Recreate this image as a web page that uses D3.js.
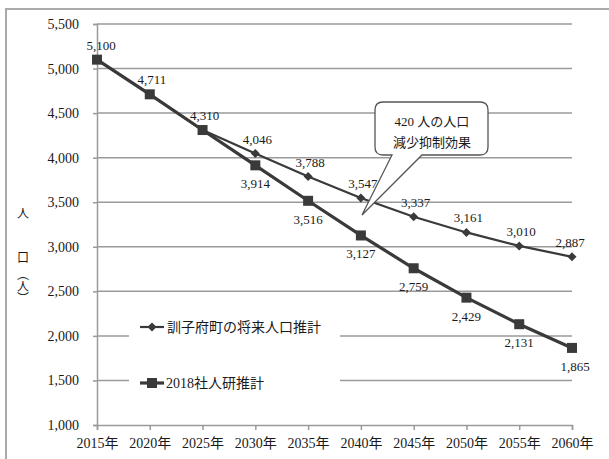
<!DOCTYPE html>
<html><head><meta charset="utf-8">
<script src="https://cdn.jsdelivr.net/npm/d3@7"></script>
<style>body{margin:0;background:#fff}svg{display:block}</style>
</head><body>
<svg id="c" width="609" height="459"></svg>
<script>
const years = ["2015年","2020年","2025年","2030年","2035年","2040年","2045年","2050年","2055年","2060年"];
const townEstimate = [5100,4711,4310,4046,3788,3547,3337,3161,3010,2887];
const ipssEstimate = [5100,4711,4310,3914,3516,3127,2759,2429,2131,1865];
const yTicks = [1000,1500,2000,2500,3000,3500,4000,4500,5000,5500];
const seriesNames = ["訓子府町の将来人口推計","2018社人研推計"];
const calloutLines = ["420 人の人口","減少抑制効果"];
const yTitle = ["人","口","（人）"];

const svg = d3.select("#c");
const FONT = "'Liberation Serif','DejaVu Serif','Noto Sans CJK JP',serif";
const INK = "#1a1a1a";
const LINE = "#3a3a3a";
const GRID = "#9a9a9a";

// outer frame
svg.append("rect").attr("x",6).attr("y",9).attr("width",620).attr("height",470)
  .attr("fill","#fff").attr("stroke","#aaa").attr("stroke-width",2);

const x = d3.scalePoint().domain(years).range([97,572]);
const y = d3.scaleLinear().domain([1000,5500]).range([425,24]);

// gridlines
svg.append("g").selectAll("line").data(yTicks.slice(1)).join("line")
  .attr("x1",97).attr("x2",572).attr("y1",d=>y(d)).attr("y2",d=>y(d))
  .attr("stroke",GRID).attr("stroke-width",1.5);

// y axis
const yAxis = svg.append("g").attr("transform","translate(97,0)")
  .call(d3.axisLeft(y).tickValues(yTicks).tickSize(4).tickPadding(14).tickFormat(d3.format(",")));
yAxis.select(".domain").attr("stroke",GRID).attr("stroke-width",1.5);
yAxis.selectAll(".tick line").attr("stroke",GRID).attr("stroke-width",1.5);
yAxis.selectAll("text").attr("font-family",FONT).attr("font-size",14).attr("fill",INK);

// x axis
const xAxis = svg.append("g").attr("transform","translate(0,425)")
  .call(d3.axisBottom(x).tickSize(5).tickPadding(8));
xAxis.select(".domain").attr("stroke",GRID).attr("stroke-width",1.5);
xAxis.selectAll(".tick line").attr("stroke",GRID).attr("stroke-width",1.5);
xAxis.selectAll("text").attr("font-family",FONT).attr("font-size",14).attr("fill",INK);

// y title (vertical)
svg.append("text").attr("x",23).attr("y",218).attr("text-anchor","middle")
  .attr("font-family",FONT).attr("font-size",12).attr("fill",INK).text(yTitle[0]);
svg.append("text").attr("x",23).attr("y",262).attr("text-anchor","middle")
  .attr("font-family",FONT).attr("font-size",12).attr("fill",INK).text(yTitle[1]);
svg.append("text").attr("x",23).attr("y",268)
  .style("writing-mode","vertical-rl").style("glyph-orientation-vertical","0")
  .attr("font-family","'Noto Sans CJK JP',sans-serif").attr("font-size",12).attr("fill",INK).text(yTitle[2]);

const line = d3.line().x((d,i)=>x(years[i])).y(d=>y(d));

// ipss series (square)
svg.append("path").datum(ipssEstimate).attr("d",line).attr("fill","none")
  .attr("stroke",LINE).attr("stroke-width",3.2);
svg.append("g").selectAll("rect").data(ipssEstimate).join("rect")
  .attr("x",(d,i)=>x(years[i])-5).attr("y",d=>y(d)-5).attr("width",10).attr("height",10)
  .attr("fill",LINE);

// town series (diamond)
svg.append("path").datum(townEstimate).attr("d",line).attr("fill","none")
  .attr("stroke",LINE).attr("stroke-width",2.2);
svg.append("g").selectAll("path.dm").data(townEstimate).join("path").attr("class","dm")
  .attr("d",(d,i)=>{const cx=x(years[i]),cy=y(d),r=4.5;return `M${cx},${cy-r}L${cx+r},${cy}L${cx},${cy+r}L${cx-r},${cy}Z`;})
  .attr("fill",LINE);

// labels: town above
const fmt = d3.format(",");
svg.append("g").selectAll("text").data(townEstimate).join("text")
  .attr("x",(d,i)=>x(years[i])+(i===0?4:i===9?-2:2)).attr("y",d=>y(d)-10)
  .attr("text-anchor","middle").attr("font-family",FONT).attr("font-size",13).attr("fill",INK)
  .text(d=>fmt(d));
// ipss below (from index 3)
svg.append("g").selectAll("text").data(ipssEstimate.slice(3)).join("text")
  .attr("x",(d,i)=>x(years[i+3])+(i===6?3:0)).attr("y",d=>y(d)+23)
  .attr("text-anchor","middle").attr("font-family",FONT).attr("font-size",13).attr("fill",INK)
  .text(d=>fmt(d));

// legend
svg.append("rect").attr("x",129).attr("y",305).attr("width",211).attr("height",95).attr("fill","#fff");
const lg = svg.append("g");
lg.append("line").attr("x1",140).attr("x2",164).attr("y1",327).attr("y2",327).attr("stroke",LINE).attr("stroke-width",2.2);
lg.append("path").attr("d","M152,322.5L156.5,327L152,331.5L147.5,327Z").attr("fill",LINE);
lg.append("text").attr("x",167).attr("y",332).attr("font-family",FONT).attr("font-size",14).attr("fill",INK).text(seriesNames[0]);
lg.append("line").attr("x1",140).attr("x2",164).attr("y1",383).attr("y2",383).attr("stroke",LINE).attr("stroke-width",3.2);
lg.append("rect").attr("x",147).attr("y",378).attr("width",10).attr("height",10).attr("fill",LINE);
lg.append("text").attr("x",166).attr("y",388).attr("font-family",FONT).attr("font-size",14).attr("fill",INK).text(seriesNames[1]);

// callout
const cx0=375, cx1=488, cy0=102, cy1=155, r=8;
const cp = `M${cx0+r},${cy0}L${cx1-r},${cy0}Q${cx1},${cy0} ${cx1},${cy0+r}L${cx1},${cy1-r}Q${cx1},${cy1} ${cx1-r},${cy1}`+
  `L422,${cy1}L362,215L392,${cy1}L${cx0+r},${cy1}Q${cx0},${cy1} ${cx0},${cy1-r}L${cx0},${cy0+r}Q${cx0},${cy0} ${cx0+r},${cy0}Z`;
svg.append("path").attr("d",cp).attr("fill","#fff").attr("stroke","#555").attr("stroke-width",1.3);
svg.append("g").selectAll("text").data(calloutLines).join("text")
  .attr("x",432).attr("y",(d,i)=>126+i*21).attr("text-anchor","middle")
  .attr("font-family",FONT).attr("font-size",13).attr("fill",INK).text(d=>d);
</script>
</body></html>
